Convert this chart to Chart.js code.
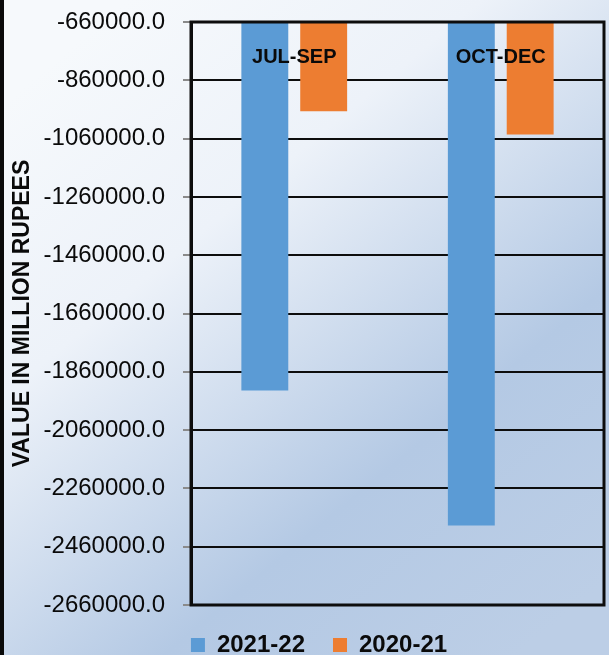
<!DOCTYPE html>
<html>
<head>
<meta charset="utf-8">
<script src="https://cdn.jsdelivr.net/npm/chart.js@4.4.1/dist/chart.umd.min.js"></script>
<style>
  html, body { margin:0; padding:0; background:#fff; }
  #wrap { width:609px; height:655px; }
</style>
</head>
<body>
<div id="wrap"><canvas id="chart"></canvas></div>
<script>
// ===============================
// Data
// ===============================
const categories = ["JUL-SEP", "OCT-DEC"];
const seriesNames = ["2021-22", "2020-21"];
const values2122 = [-1924000, -2387000];
const values2021 = [-966000, -1046000];
const yMin = -2660000;
const yMax = -660000;
const yStep = 200000;

// ===============================
// Plugins: background, frame, category labels
// ===============================
const backdrop = {
    id: "backdrop",
    beforeDraw(chart){
        const c = chart.ctx;
        const w = chart.width, h = chart.height;
        const g = c.createLinearGradient(80, 40, 560, 620);
        g.addColorStop(0, "#f6f9fc");
        g.addColorStop(0.3, "#edf2f9");
        g.addColorStop(0.7, "#b4c9e4");
        g.addColorStop(1, "#bccee6");
        c.save();
        c.fillStyle = g;
        c.fillRect(0, 0, w, h);
        c.fillStyle = "#0a0a0a";
        c.fillRect(0, 0, 4, h);
        c.restore();
    },
    afterDatasetsDraw(chart){
        const c = chart.ctx;
        const a = chart.chartArea;
        const x = chart.scales.x;
        c.save();
        // frame
        c.strokeStyle = "#0d0d0d";
        c.lineWidth = 3;
        c.strokeRect(a.left, a.top, a.right - a.left, a.bottom - a.top);
        // category labels inside plot
        c.fillStyle = "#0a0a0a";
        c.font = "bold 20px 'Liberation Sans', Arial, sans-serif";
        c.textAlign = "center";
        c.textBaseline = "middle";
        categories.forEach((lab, i) => {
            c.fillText(lab, x.getPixelForValue(i), a.top + 35);
        });
        c.restore();
    }
};

// ===============================
// Chart
// ===============================
const ctx = document.getElementById("chart").getContext("2d");
const chart = new Chart(ctx, {
    type: "bar",
    data: {
        labels: categories,
        datasets: [
            { label: seriesNames[0], data: values2122, backgroundColor: "#5b9bd5" },
            { label: seriesNames[1], data: values2021, backgroundColor: "#ed7d31" }
        ]
    },
    options: {
        responsive: true,
        maintainAspectRatio: false,
        animation: false,
        categoryPercentage: 0.57,
        barPercentage: 0.797,
        layout: { padding: { top: 22, right: 5, left: 34, bottom: -12 } },
        plugins: {
            legend: {
                position: "bottom",
                labels: {
                    boxWidth: 14,
                    boxHeight: 14,
                    padding: 28,
                    color: "#0a0a0a",
                    font: { family: "'Liberation Sans', Arial, sans-serif", size: 24, weight: "bold" }
                }
            },
            tooltip: { enabled: false }
        },
        scales: {
            x: { display: false },
            y: {
                min: yMin,
                max: yMax,
                afterFit(scale){ scale.width = 157; },
                ticks: {
                    stepSize: yStep,
                    padding: 18,
                    color: "#0a0a0a",
                    font: { family: "'Liberation Sans', Arial, sans-serif", size: 24, lineHeight: 0.3 },
                    callback: v => Number(v).toFixed(1)
                },
                grid: { color: "#0d0d0d", lineWidth: 2, tickColor: "#8a8a8a", tickLength: 8 },
                border: { color: "#0d0d0d", width: 3 },
                title: {
                    display: true,
                    text: "VALUE IN MILLION RUPEES",
                    color: "#0a0a0a",
                    padding: { top: -25, bottom: 0 },
                    font: { family: "'Liberation Sans', Arial, sans-serif", size: 23, weight: "bold" }
                }
            }
        }
    },
    plugins: [backdrop]
});
</script>
</body>
</html>
